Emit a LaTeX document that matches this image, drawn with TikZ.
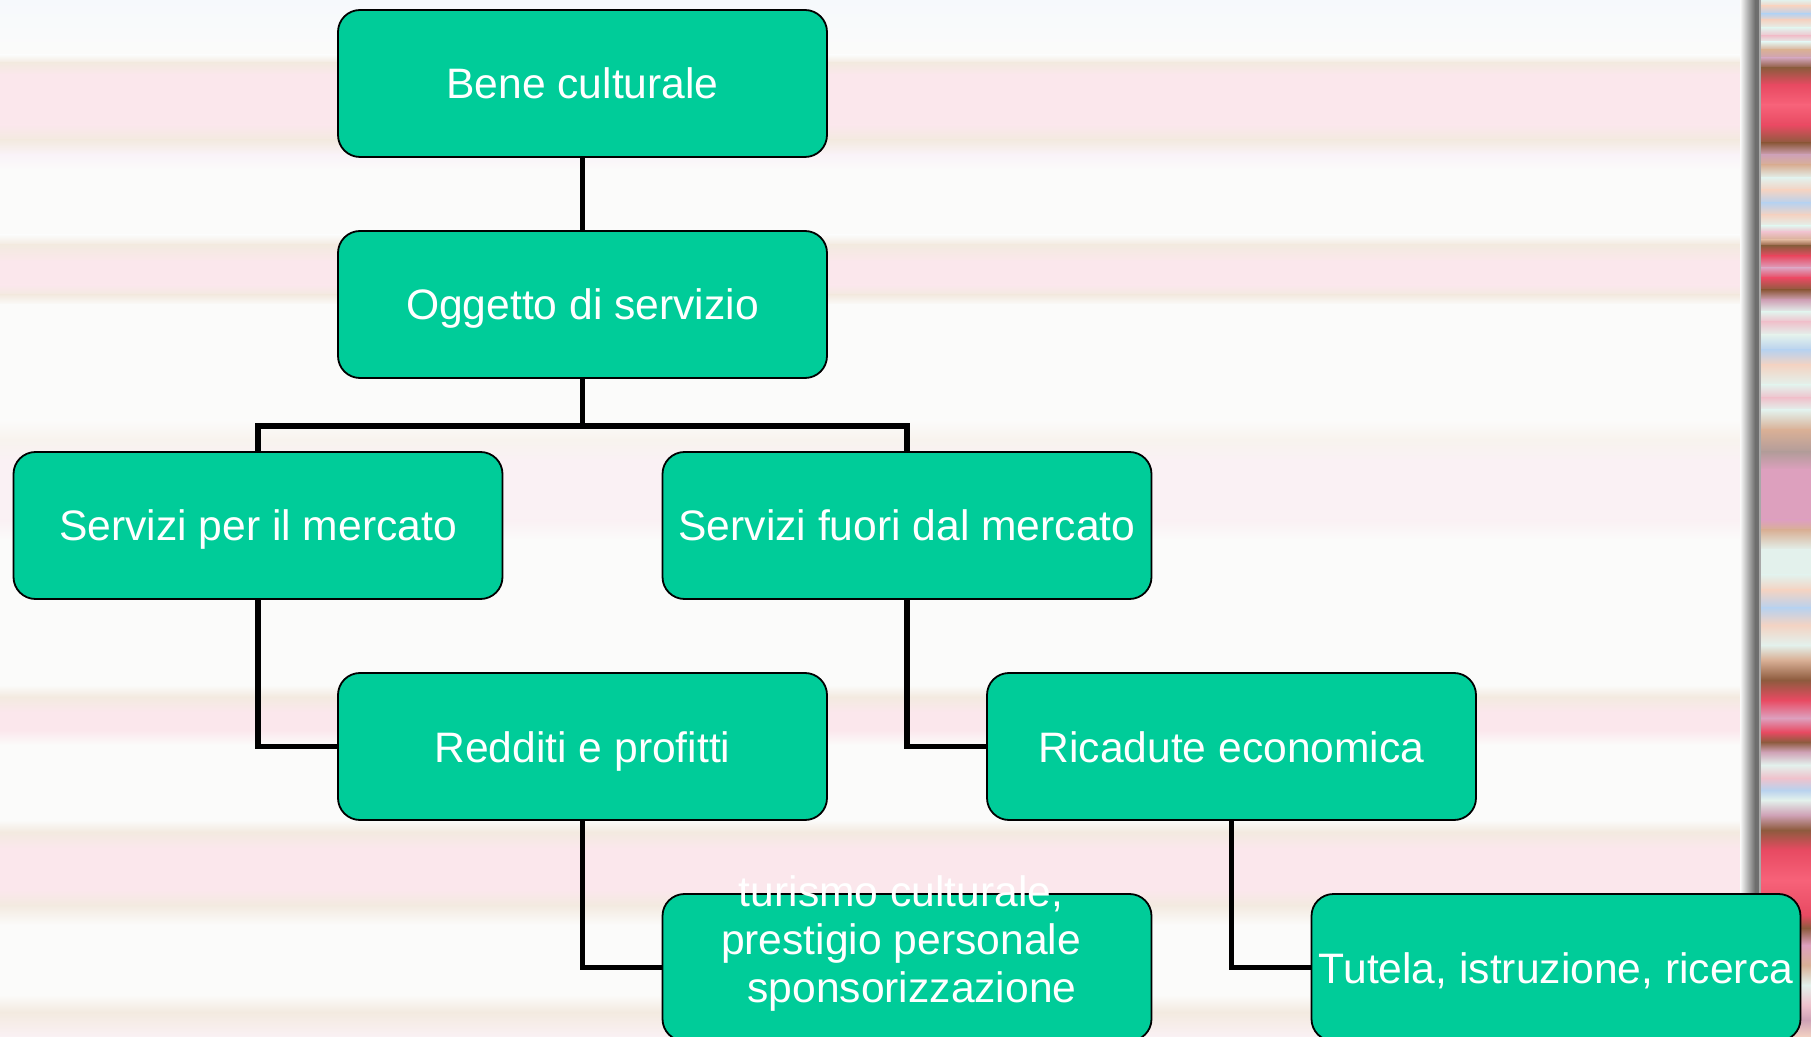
\documentclass[tikz,border=0pt]{standalone}
\usepackage{fontspec}
\setmainfont{Liberation Sans}
\usetikzlibrary{positioning}

\definecolor{boxgreen}{RGB}{0,204,153}
\definecolor{bgW}{RGB}{251,251,250}
\definecolor{bgB}{RGB}{246,249,252}
\definecolor{bgP}{RGB}{251,231,236}
\definecolor{bgC}{RGB}{243,234,224}
\definecolor{bgL}{RGB}{250,243,248}
\definecolor{bgPL}{RGB}{250,241,244}
\definecolor{bgC2}{RGB}{248,243,238}
\definecolor{rsMint}{RGB}{227,241,236}
\definecolor{rsPeach}{RGB}{243,211,195}
\definecolor{rsBlue}{RGB}{185,210,238}
\definecolor{rsPink}{RGB}{239,194,204}
\definecolor{rsTan}{RGB}{217,176,150}
\definecolor{rsMauve}{RGB}{207,162,182}
\definecolor{rsBrown}{RGB}{142,91,62}
\definecolor{rsRed}{RGB}{232,74,98}
\definecolor{rsRose}{RGB}{247,98,121}
\definecolor{rsPinkM}{RGB}{221,160,190}
\definecolor{rsGray}{RGB}{179,156,154}
\definecolor{barGray}{RGB}{110,110,110}

\begin{document}
\begin{tikzpicture}[x=0.5pt, y=-0.5pt, on grid, node distance=110.5pt and 162.25pt,
    box/.style={draw=black, line width=0.9pt, fill=boxgreen, rounded corners=11pt,
      minimum width=244.5pt, minimum height=73.5pt, inner sep=2pt,
      text height=15.5pt, text depth=0pt,
      text=white, font=\fontsize{21.3}{24}\selectfont},
    boxtext/.style={text=white, inner sep=0pt, align=center, font=\fontsize{21.3}{24}\selectfont},
    link/.style={line width=2.8pt}]
    \useasboundingbox (0,0) rectangle (1811,1037);
    \foreach \y/\c [remember=\y as \yp (initially 0), remember=\c as \cp (initially bgB)] in
      {55/bgW, 63/bgC, 75/bgP, 125/bgP, 140/bgC, 155/bgL, 170/bgW, 235/bgW, 245/bgC,
       262/bgP, 285/bgP, 295/bgC, 305/bgW, 420/bgW, 440/bgC2, 460/bgPL, 520/bgPL,
       540/bgW, 685/bgW, 697/bgC, 712/bgP, 730/bgP, 745/bgW, 820/bgW, 832/bgC,
       848/bgP, 890/bgP, 905/bgC, 925/bgW, 995/bgW, 1012/bgC, 1037/bgPL}
      \shade[top color=\cp, bottom color=\c] (0,\yp) rectangle (1742,\y);
    \foreach \y/\c [remember=\y as \yp (initially 0), remember=\c as \cp (initially rsMint)] in
      {6/rsPeach, 14/rsBlue, 20/rsPeach, 28/rsMint, 36/rsPink, 42/rsMint, 50/rsTan,
       58/rsMauve, 68/rsBrown, 85/rsRed, 105/rsRose, 125/rsRed, 143/rsBrown, 155/rsMauve,
       165/rsTan, 178/rsMint, 190/rsPeach, 203/rsBlue, 215/rsPeach, 226/rsMint, 232/rsPink,
       240/rsTan, 246/rsBrown, 256/rsRed, 268/rsPinkM, 278/rsRed, 290/rsBrown, 300/rsMauve,
       312/rsMint, 322/rsPink, 335/rsMint, 350/rsBlue, 365/rsPeach, 385/rsMint, 398/rsPink,
       410/rsMint, 430/rsTan, 452/rsGray, 470/rsPinkM, 520/rsPinkM, 530/rsTan, 550/rsMint,
       575/rsMint, 590/rsPeach, 608/rsBlue, 625/rsPeach, 645/rsMint, 660/rsTan, 680/rsBrown,
       700/rsRed, 718/rsPinkM, 732/rsRed, 742/rsBrown, 752/rsMauve, 765/rsMint, 778/rsPink,
       790/rsBlue, 800/rsMint, 815/rsMauve, 830/rsBrown, 850/rsRed, 880/rsRose, 915/rsRed,
       928/rsBrown, 945/rsPinkM, 965/rsTan, 985/rsMint, 1005/rsPink, 1020/rsMauve, 1037/rsPeach}
      \shade[top color=\cp, bottom color=\c] (1761,\yp) rectangle (1811,\y);
    \shade[left color=bgW, right color=barGray] (1740,0) rectangle (1755,1037);
    \fill[barGray] (1755,0) rectangle (1759,1037);
    \fill[barGray!60] (1759,0) rectangle (1761,1037);

    \node[box] (bene) at (582.5,83.5) {Bene culturale};
    \node[box] (oggetto) [below=of bene] {Oggetto di servizio};
    \node[box] (mercato) [below left=of oggetto] {Servizi per il mercato};
    \node[box] (fuori) [below right=of oggetto] {Servizi fuori dal mercato};
    \node[box] (redditi) [below right=of mercato] {Redditi e profitti};
    \node[box] (ricadute) [below right=of fuori] {Ricadute economica};
    \node[box] (turismo) [below right=of redditi] {};
    \node[box] (tutela) [below right=of ricadute] {Tutela, istruzione, ricerca};
    \node[boxtext] (turismotext) at ([xshift=-3pt,yshift=12.25pt]turismo.center)
      {turismo culturale,\\ prestigio personale\\ \hspace*{11pt}sponsorizzazione};

    \coordinate[above=12.5pt of mercato.north] (bar);
    \draw[link] (bene) -- (oggetto);
    \draw[link] (oggetto.south) -- (oggetto.south |- bar);
    \draw[link] (mercato.north) -- (bar) -| (fuori.north);
    \draw[link] (mercato.south) |- (redditi.west);
    \draw[link] (fuori.south) |- (ricadute.west);
    \draw[link] (redditi.south) |- (turismo.west);
    \draw[link] (ricadute.south) |- (tutela.west);
\end{tikzpicture}
\end{document}
